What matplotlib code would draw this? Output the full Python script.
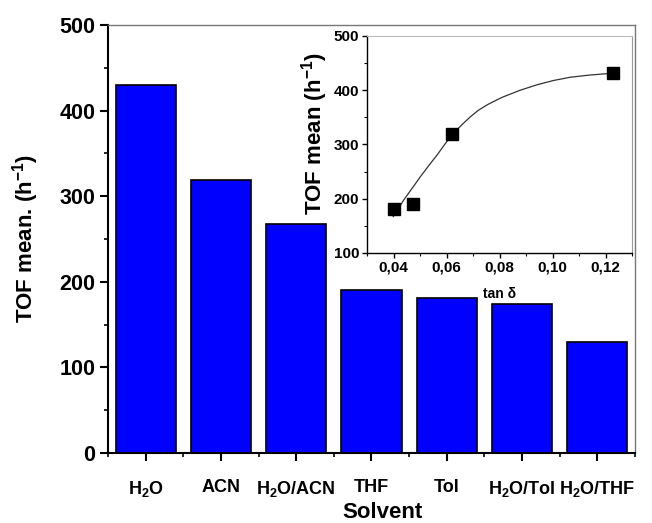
import matplotlib
matplotlib.use("Agg")
import matplotlib.pyplot as plt
import matplotlib.transforms as mtransforms
from matplotlib.ticker import MultipleLocator

plt.rcParams['font.family'] = ['Liberation Sans', 'DejaVu Sans']
plt.rcParams['font.weight'] = 'bold'
plt.rcParams['mathtext.fontset'] = 'custom'
plt.rcParams['mathtext.rm'] = 'Liberation Sans:bold'
plt.rcParams['mathtext.bf'] = 'Liberation Sans:bold'
plt.rcParams['mathtext.default'] = 'bf'

# Main bar data
solvents = ['H$_2$O', 'ACN', 'H$_2$O/ACN', 'THF', 'Tol', 'H$_2$O/Tol', 'H$_2$O/THF']
tof_mean = [430, 319, 268, 190, 181, 174, 130]

# Inset data
tan_delta = [0.0401, 0.0473, 0.0621, 0.1229]
tof_inset = [182, 191, 320, 431]

# Fitted curve
curve_x = [0.0399, 0.0439, 0.0470, 0.0502, 0.0533, 0.0565, 0.0593, 0.0621, 0.0655,
           0.0690, 0.0720, 0.0753, 0.0785, 0.0815, 0.0878, 0.0941, 0.1004, 0.1067,
           0.1140, 0.1217]
curve_y = [167, 198, 219, 241, 261, 281, 300, 318, 335,
           351, 363, 373, 381, 388, 400, 410, 418, 424,
           428, 431]

fig = plt.figure(figsize=(6.52, 5.23), dpi=100)
ax = fig.add_axes([108/652, 1-453/523, 527/652, 428/523])

xs = list(range(len(solvents)))
ax.bar(xs, tof_mean, width=0.8, color='#0000ff', edgecolor='black', linewidth=1.2, zorder=2)
ax.set_xlim(-0.5, 6.5)
ax.set_ylim(0, 500)
ax.set_xticks(xs)
ax.set_xticklabels(solvents, fontsize=13, fontweight='bold')
# last label sits slightly to the right in the reference
lbls = ax.get_xticklabels()
lbls[-1].set_transform(lbls[-1].get_transform() +
                       mtransforms.ScaledTranslation(12/100, 0, fig.dpi_scale_trans))
ax.xaxis.set_minor_locator(MultipleLocator(1, offset=0.5))
ax.yaxis.set_major_locator(MultipleLocator(100))
ax.yaxis.set_minor_locator(MultipleLocator(50))
ax.tick_params(axis='both', which='major', direction='out', length=6, width=1.5)
ax.tick_params(axis='y', which='major', labelsize=15.5, pad=3)
ax.tick_params(axis='both', which='minor', direction='out', length=3, width=1.2)
ax.tick_params(axis='x', which='major', pad=13)
ax.tick_params(top=False, right=False, which='both')
for t in ax.get_yticklabels():
    t.set_fontweight('bold')
ax.spines['left'].set_linewidth(1.5)
ax.spines['bottom'].set_linewidth(1.5)
ax.spines['top'].set_color('#777777')
ax.spines['right'].set_color('#777777')
ax.spines['top'].set_linewidth(1.0)
ax.spines['right'].set_linewidth(1.0)
ax.set_xlabel('Solvent', fontsize=16, fontweight='bold', labelpad=2)
ax.xaxis.label.set_x(0.52)
ax.set_ylabel('TOF mean. (h$^{-1}$)', fontsize=16, fontweight='bold', labelpad=13)

# Inset
ins = fig.add_axes([367/652, 1-253/523, 265/652, 217/523])
ins.plot(curve_x, curve_y, color='#333333', linewidth=0.9, zorder=2)
ins.plot(tan_delta, tof_inset, linestyle='none', marker='s', markersize=9,
         color='black', zorder=3)
ins.set_xlim(0.03, 0.13)
ins.set_ylim(100, 500)
ins.xaxis.set_major_locator(MultipleLocator(0.02))
ins.xaxis.set_minor_locator(MultipleLocator(0.01))
ins.yaxis.set_major_locator(MultipleLocator(100))
ins.yaxis.set_minor_locator(MultipleLocator(50))
ins.set_xticks([0.04, 0.06, 0.08, 0.10, 0.12])
ins.set_xticklabels(['0,04', '0,06', '0,08', '0,10', '0,12'], fontsize=11, fontweight='bold')
ins.tick_params(axis='both', which='major', direction='out', length=3.5, width=1.0, labelsize=11, pad=2)
ins.tick_params(axis='both', which='minor', direction='out', length=2, width=0.8)
for t in ins.get_yticklabels():
    t.set_fontweight('bold')
ins.spines['top'].set_color('#bbbbbb')
ins.spines['right'].set_color('#999999')
ins.spines['left'].set_linewidth(1.0)
ins.spines['bottom'].set_linewidth(1.0)
ins.set_xlabel('tan δ', fontsize=10, fontweight='bold', labelpad=9)
ins.set_ylabel('TOF mean (h$^{-1}$)', fontsize=16, fontweight='bold', labelpad=3)
ins.yaxis.label.set_y(0.55)

fig.savefig('out.png', dpi=100)
